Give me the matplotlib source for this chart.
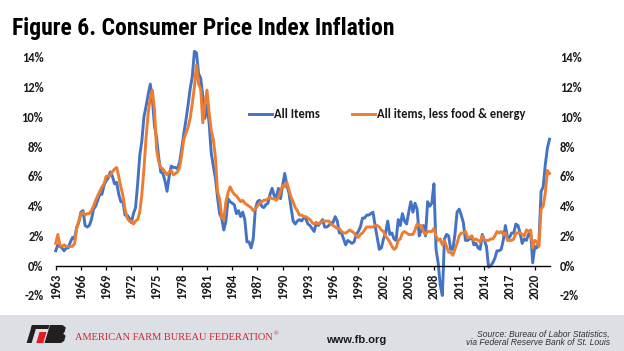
import numpy as np
import matplotlib
matplotlib.use("Agg")
import matplotlib.pyplot as plt
from matplotlib import font_manager as fm
from matplotlib.patches import Rectangle, Polygon

# quarterly year-over-year CPI change (%), Q3 1963 .. Q2 2022
cpi_all = [
    1.0, 1.4,
    1.3, 1.2, 1.0, 1.2,   1.2, 1.6, 1.9, 1.8,   2.6, 2.9, 3.6, 3.7,   2.7, 2.6, 2.7, 3.1,
    3.8, 4.0, 4.4, 4.8,   4.8, 5.4, 5.7, 5.9,   6.3, 6.0, 5.5, 5.6,   4.8, 4.3, 4.3, 3.4,
    3.4, 3.2, 2.9, 3.5,   3.9, 5.5, 7.4, 8.4,   10.0, 10.7, 11.5, 12.2,   11.2, 9.4, 8.6, 7.3,
    6.3, 6.2, 5.7, 5.0,   6.0, 6.7, 6.6, 6.6,   6.5, 7.0, 7.9, 8.9,   9.8, 10.8, 11.9, 12.7,
    14.4, 14.3, 12.9, 12.6,   11.4, 9.9, 10.8, 9.6,   7.6, 6.7, 5.9, 4.6,   3.5, 3.2, 2.4, 3.0,
    4.5, 4.3, 4.2, 4.1,   3.5, 3.7, 3.3, 3.6,   3.1, 1.6, 1.6, 1.2,   1.8, 3.8, 4.3, 4.4,
    4.0, 3.9, 4.1, 4.2,   4.8, 5.2, 4.7, 4.6,   5.2, 4.5, 5.4, 6.2,   5.4, 4.9, 3.9, 3.0,
    2.8, 3.0, 3.1, 3.0,   3.2, 3.2, 2.8, 2.7,   2.5, 2.3, 2.9, 2.7,   2.9, 3.1, 2.6, 2.6,
    2.7, 2.9, 2.9, 3.3,   3.0, 2.2, 2.2, 1.8,   1.4, 1.7, 1.6, 1.5,   1.6, 2.1, 2.3, 2.6,
    3.2, 3.2, 3.4, 3.4,   3.5, 3.6, 2.7, 1.9,   1.1, 1.2, 1.8, 2.2,   3.0, 2.1, 2.2, 1.8,
    1.7, 3.1, 2.7, 3.5,   3.0, 2.8, 3.6, 4.3,   3.6, 4.2, 3.8, 2.0,   2.4, 2.7, 2.0, 4.3,
    4.0, 4.2, 5.5, 1.1,   0.2, -1.3, -2.0, 1.8,   2.1, 2.0, 1.1, 1.1,   2.1, 3.6, 3.8, 3.4,
    2.9, 1.7, 1.7, 1.8,   2.0, 1.4, 1.5, 1.2,   1.1, 2.1, 1.7, 1.3,   -0.1, 0.0, 0.2, 0.5,
    1.0, 1.0, 1.1, 1.7,   2.7, 1.9, 1.9, 2.2,   2.2, 2.8, 2.7, 2.2,   1.5, 1.8, 1.7, 2.1,
    2.3, 0.2, 1.3, 1.2,   1.7, 5.0, 5.3, 6.8,
    7.9, 8.5,
]
cpi_core = [
    1.5, 2.1,
    1.4, 1.3, 1.4, 1.3,   1.3, 1.3, 1.3, 1.5,   2.5, 3.0, 3.5, 3.6,   3.4, 3.5, 3.5, 3.7,
    4.0, 4.4, 4.7, 5.0,   5.3, 5.5, 6.0, 6.0,   6.1, 6.3, 6.5, 6.6,   6.0, 5.3, 4.7, 3.8,
    3.2, 3.0, 3.0, 2.8,   3.0, 3.1, 3.6, 4.8,   6.5, 8.6, 10.2, 11.3,   11.8, 10.5, 7.8, 7.0,
    6.6, 6.5, 6.3, 6.1,   6.3, 6.4, 6.1, 6.2,   6.3, 6.6, 7.5, 8.5,   8.9, 9.3, 9.9, 10.9,
    12.0, 13.5, 12.2, 11.9,   9.6, 10.8, 11.8, 10.3,   9.1, 8.5, 7.3, 5.0,   4.5, 3.3, 3.1, 4.3,
    4.9, 5.3, 5.0, 4.8,   4.7, 4.5, 4.3, 4.4,   4.2, 4.1, 4.0, 3.9,   3.7, 3.8, 4.0, 4.2,
    4.3, 4.4, 4.4, 4.5,   4.6, 4.5, 4.5, 4.4,   4.6, 5.0, 5.4, 5.3,   5.6, 5.1, 4.6, 4.3,
    3.9, 3.7, 3.4, 3.4,   3.3, 3.3, 3.2, 3.1,   2.9, 2.8, 2.9, 2.8,   2.9, 3.0, 3.0, 3.0,
    3.0, 2.8, 2.7, 2.6,   2.5, 2.5, 2.3, 2.2,   2.2, 2.3, 2.4, 2.3,   2.2, 2.0, 1.9, 2.1,
    2.2, 2.4, 2.6, 2.6,   2.6, 2.6, 2.7, 2.7,   2.6, 2.4, 2.3, 2.0,   1.8, 1.6, 1.3, 1.1,
    1.2, 1.7, 1.8, 2.2,   2.3, 2.2, 2.1, 2.1,   2.1, 2.4, 2.8, 2.7,   2.7, 2.3, 2.1, 2.3,
    2.3, 2.3, 2.5, 2.0,   1.7, 1.8, 1.4, 1.7,   1.3, 0.9, 0.9, 0.7,   1.1, 1.5, 2.0, 2.2,
    2.2, 2.3, 1.9, 1.9,   2.0, 1.7, 1.8, 1.7,   1.6, 2.0, 1.7, 1.7,   1.7, 1.8, 1.8, 2.0,
    2.3, 2.2, 2.3, 2.1,   2.2, 1.7, 1.7, 1.7,   1.8, 2.2, 2.2, 2.2,   2.1, 2.0, 2.4, 2.3,
    2.4, 1.2, 1.7, 1.6,   1.3, 3.8, 4.0, 4.9,
    6.4, 6.2,
]
tick_years = list(range(1963, 2021, 3))
y_ticks = [-2, 0, 2, 4, 6, 8, 10, 12, 14]
series_names = ["All Items", "All items, less food & energy"]

BLUE = "#4472C4"
ORANGE = "#ED7D31"
W, H = 624, 351


def _w(f):
    w = f.weight
    return fm.weight_dict.get(w, 400) if isinstance(w, str) else int(w)


bold_families = {f.name for f in fm.fontManager.ttflist if _w(f) >= 700}


def pick(cands, pool, fallback="DejaVu Sans"):
    for c in cands:
        if c in pool:
            return c
    return fallback


TITLE_FONT = pick(["Liberation Sans Narrow", "Roboto Condensed", "Fira Sans Condensed",
                   "Archivo Narrow", "Barlow Semi Condensed", "PT Sans Narrow",
                   "Encode Sans Condensed", "Asap Condensed", "Open Sans Condensed"],
                  bold_families)
BODY_FONT = pick(["Carlito", "Lato"], bold_families)
body_size = 9.0 if BODY_FONT == "Carlito" else 8.2

# chart x positions: quarterly steps starting at the "1963" tick
dates = 1963.0 + 0.25 * np.arange(len(cpi_all))


def px(x, y):
    # pixel (from top-left) -> figure fraction
    return (x / W, 1 - y / H)


fig = plt.figure(figsize=(W / 100, H / 100), dpi=100)
fig.patch.set_facecolor("white")

left, right, top, bottom = 55.7, 549.5, 57.3, 295.5
ax = fig.add_axes([left / W, 1 - bottom / H, (right - left) / W, (bottom - top) / H])

ax.plot(dates, cpi_all, color=BLUE, lw=2.1, label=series_names[0], clip_on=False)
ax.plot(dates, cpi_core, color=ORANGE, lw=2.1, label=series_names[1], clip_on=False)

ax.set_xlim(1963, 2021.75)
ax.set_ylim(-2, 14)

for s in ["top", "left", "right"]:
    ax.spines[s].set_visible(False)
ax.spines["bottom"].set_position(("data", 0))
ax.spines["bottom"].set_color("black")
ax.spines["bottom"].set_linewidth(1.0)

tick_font = dict(family=BODY_FONT, weight="bold", size=body_size)
ax.set_xticks(tick_years)
ax.set_xticklabels([str(y) for y in tick_years], rotation=90, color="#1a1a1a", **tick_font)
ax.tick_params(axis="x", direction="out", length=3, width=0.9, color="black", pad=3)

ax.set_yticks(y_ticks)
ax.set_yticklabels([f"{v}%" for v in y_ticks], color="#1a1a1a", **tick_font)
ax.tick_params(axis="y", length=0, pad=8.8)

ax2 = ax.twinx()
ax2.set_ylim(-2, 14)
for s in ["top", "left", "right", "bottom"]:
    ax2.spines[s].set_visible(False)
ax2.set_yticks(y_ticks)
ax2.set_yticklabels([f"{v}%" for v in y_ticks], color="#1a1a1a", **tick_font)
ax2.tick_params(axis="y", length=0, pad=7.5)

leg = fig.legend(
    loc="center left",
    bbox_to_anchor=px(249, 114),
    ncol=2,
    frameon=False,
    borderpad=0,
    borderaxespad=0,
    handlelength=16.6 / body_size,
    handletextpad=0.12,
    columnspacing=23.5 / body_size,
    prop=dict(family=BODY_FONT, weight="bold", size=body_size),
)
for t in leg.get_texts():
    t.set_color("#1a1a1a")

# title, sized so it spans the same width as in the reference
title = fig.text(*px(12, 28), "Figure 6. Consumer Price Index Inflation",
                 family=TITLE_FONT, weight="bold", size=17,
                 va="center", ha="left", color="black")
renderer = fig.canvas.get_renderer()
tw = title.get_window_extent(renderer).width
title.set_fontsize(min(24, 17 * 382 / tw))

# footer band
fig.patches.append(Rectangle((0, 0), 1, 36 / H, transform=fig.transFigure,
                             facecolor="#dce0e4", edgecolor="none", zorder=0))


# logo
def poly(pts, color):
    fig.patches.append(Polygon([px(x, y) for x, y in pts], closed=True,
                               transform=fig.transFigure, facecolor=color,
                               edgecolor="none", zorder=2))


poly([(32, 325), (37, 325), (31.6, 343), (26.6, 343)], "#231f20")
poly([(32, 325), (49.5, 325), (48.3, 329), (30.8, 329)], "#231f20")
poly([(39.5, 332), (46.5, 332), (43.2, 343), (36.3, 343)], "#e31b23")
poly([(50, 325), (62.5, 325), (65.8, 327.5), (64.6, 332), (63.2, 333.6),
      (65.6, 335.8), (64.2, 341), (61, 343), (44.5, 343)], "#231f20")

org = fig.text(*px(75, 337.5), "AMERICAN FARM BUREAU FEDERATION",
               family="Liberation Serif", size=7.5, color="#d2232a", va="center", ha="left")
ow = org.get_window_extent(renderer).width
fig.text(*px(75 + ow + 1, 334), "®", family="Liberation Serif", size=4.5,
         color="#d2232a", va="center", ha="left")

fig.text(*px(356, 340), "www.fb.org", family="Liberation Sans", weight="bold",
         size=8, color="#1a1a1a", va="center", ha="center")
fig.text(*px(610, 334.7), "Source: Bureau of Labor Statistics,", family="Liberation Sans",
         style="italic", size=6.2, color="#333333", va="center", ha="right")
fig.text(*px(610, 342.7), "via Federal Reserve Bank of St. Louis", family="Liberation Sans",
         style="italic", size=6.2, color="#333333", va="center", ha="right")

fig.savefig("out.png", dpi=100)
